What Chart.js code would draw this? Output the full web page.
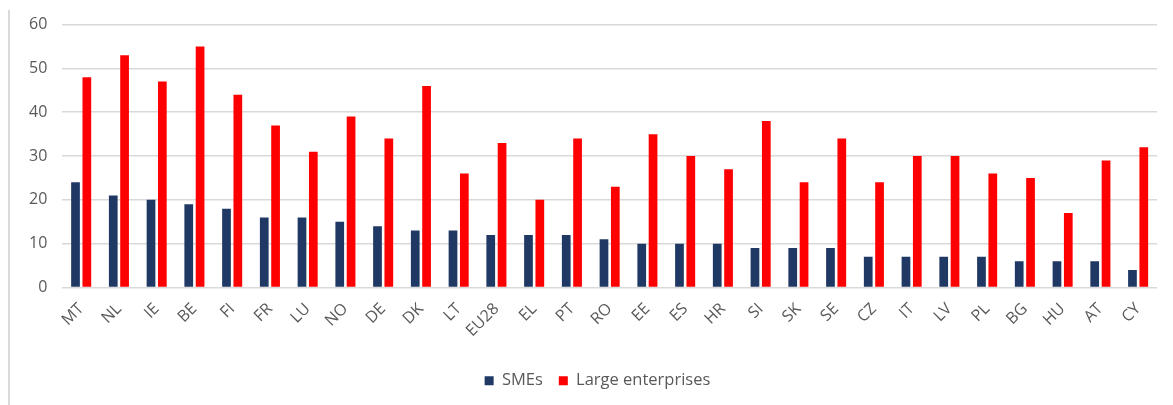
<!DOCTYPE html>
<html>
<head>
<meta charset="utf-8">
<script src="https://cdn.jsdelivr.net/npm/chart.js@4/dist/chart.umd.min.js"></script>
<style>
html,body{margin:0;padding:0;background:#fff;}
#wrap{position:relative;width:1173px;height:405px;}
#frame{position:absolute;left:8px;top:10px;bottom:0;border-left:2px solid #d9d9d9;}
canvas{position:absolute;left:0;top:0;}
</style>
</head>
<body>
<div id="wrap"><div id="frame"></div><canvas id="c" width="1173" height="405"></canvas></div>
<script>
const categories = ["MT","NL","IE","BE","FI","FR","LU","NO","DE","DK","LT","EU28","EL","PT","RO","EE","ES","HR","SI","SK","SE","CZ","IT","LV","PL","BG","HU","AT","CY"];
const smes = [24,21,20,19,18,16,16,15,14,13,13,12,12,12,11,10,10,10,9,9,9,7,7,7,7,6,6,6,4];
const large = [48,53,47,55,44,37,31,39,34,46,26,33,20,34,23,35,30,27,38,24,34,24,30,30,26,25,17,29,32];
const yTicks = [0,10,20,30,40,50,60];

const legendShift = {
  id:'legendShift',
  afterLayout(chart){
    const lg = chart.legend;
    if(lg){ lg.left += 12; lg.right += 12; }
  }
};

new Chart(document.getElementById('c'), {
  type: 'bar',
  data: {
    labels: categories,
    datasets: [
      {label:'SMEs', data: smes, backgroundColor:'#203864', categoryPercentage:0.6, barPercentage:0.77},
      {label:'Large enterprises', data: large, backgroundColor:'#ff0000', categoryPercentage:0.6, barPercentage:0.77}
    ]
  },
  plugins:[legendShift],
  options: {
    responsive:false,
    animation:false,
    layout:{padding:{left:14,right:16,top:17,bottom:6}},
    scales:{
      x:{
        grid:{display:false},
        border:{display:false},
        ticks:{color:'#595959',font:{family:'Open Sans',size:16},maxRotation:45,minRotation:45,padding:4},
        afterFit:(ax)=>{ax.height=69;}
      },
      y:{
        min:0,max:60,
        afterBuildTicks:(ax)=>{ax.ticks=yTicks.map(v=>({value:v}));},
        grid:{color:'#d9d9d9',lineWidth:1.5,drawTicks:false},
        border:{display:false},
        ticks:{color:'#595959',font:{family:'Open Sans',size:16},padding:15}
      }
    },
    plugins:{
      legend:{
        position:'bottom',
        labels:{color:'#595959',font:{family:'Open Sans',size:16.5},boxWidth:9,boxHeight:9,padding:16}
      },
      tooltip:{enabled:false}
    }
  }
});
</script>
</body>
</html>
